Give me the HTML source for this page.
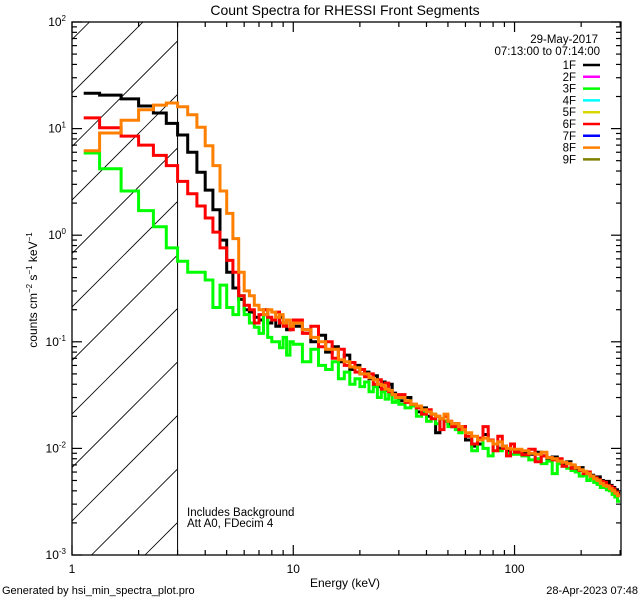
<!DOCTYPE html>
<html><head><meta charset="utf-8"><style>
html,body{margin:0;padding:0;background:#fff;overflow:hidden;width:640px;height:600px}
svg{display:block}
svg text{font-family:"Liberation Sans",sans-serif;fill:#000}
</style></head><body>
<svg id="chart" width="640" height="600" viewBox="0 0 640 600" xmlns="http://www.w3.org/2000/svg">
<defs><clipPath id="plotclip"><rect x="72" y="22" width="549" height="533"/></clipPath>
<clipPath id="hatchclip"><rect x="72" y="22" width="105" height="533"/></clipPath></defs>
<rect x="0" y="0" width="640" height="600" fill="#fff"/>
<text x="345" y="15" font-size="14" text-anchor="middle">Count Spectra for RHESSI Front Segments</text>
<g id="hatch" clip-path="url(#hatchclip)"></g>
<g id="axes"></g>
<g id="series" clip-path="url(#plotclip)"></g>
<g id="legend"></g>
<text x="187" y="516" font-size="11.5">Includes Background</text>
<text x="187" y="527" font-size="11.5">Att A0, FDecim 4</text>
<text x="345" y="587" font-size="12" text-anchor="middle">Energy (keV)</text>
<text transform="translate(37,290) rotate(-90)" font-size="12" text-anchor="middle">counts cm<tspan dy="-5" font-size="8">−2</tspan><tspan dy="5"> s</tspan><tspan dy="-5" font-size="8">−1</tspan><tspan dy="5"> keV</tspan><tspan dy="-5" font-size="8">−1</tspan></text>
<text x="2" y="594" font-size="11">Generated by hsi_min_spectra_plot.pro</text>
<text x="638" y="594" font-size="11" text-anchor="end">28-Apr-2023 07:48</text>
</svg>
<script>
// binning segments: [start keV, end keV, step keV]
const binSegments = [[1.0,10,1/3],[10,30,1],[30,60,2],[60,100,4],[100,300,8]];
const firstBinStart = 1.13;
const xTickMajor = [1,10,100];
const xTickLabels = ["1","10","100"];
const yTickExp = [-3,-2,-1,0,1,2];
const seriesNames = ["1F","2F","3F","4F","5F","6F","7F","8F","9F"];
const seriesColors = ["#000000","#ff00ff","#00ff00","#00ffff","#d8d800","#ff0000","#0000ff","#ff8000","#808000"];
const black = [21.5,20.6,19,16.3,14,11.2,8.7,6.0,3.9,2.65,1.73,0.9,0.45,0.32,0.25,0.2,0.19,0.17,0.16,0.18,0.15,0.16,0.14,0.17,0.15,0.13,0.14,
0.14,0.13,0.1,0.115,0.08,0.09,0.065,0.075,0.055,0.06,0.05,0.052,0.045,0.048,0.038,0.042,0.035,0.04,0.033,0.031,
0.028,0.03,0.025,0.022,0.024,0.02,0.021,0.014,0.019,0.018,0.017,0.016,0.017,0.015,0.016,
0.012,0.0105,0.011,0.0135,0.012,0.011,0.01,0.0105,0.0095,0.0098,
0.0095,0.009,0.0088,0.0092,0.0085,0.008,0.0083,0.0078,0.0072,0.0075,0.0068,0.0064,0.0066,0.006,0.0058,0.0056,0.0052,0.0054,0.005,0.0047,0.0049,0.0045,0.0043,0.0041,0.0038];
const green = [5.9,4.2,2.6,1.7,1.2,0.76,0.57,0.45,0.45,0.38,0.21,0.34,0.21,0.18,0.27,0.18,0.15,0.137,0.12,0.2,0.11,0.1,0.1,0.088,0.11,0.075,0.1,
0.095,0.065,0.085,0.06,0.055,0.065,0.045,0.052,0.04,0.045,0.038,0.042,0.034,0.038,0.03,0.034,0.029,0.032,0.027,0.028,
0.026,0.024,0.025,0.02,0.022,0.018,0.021,0.017,0.019,0.018,0.016,0.017,0.015,0.014,0.015,
0.013,0.0095,0.012,0.01,0.0085,0.011,0.0095,0.01,0.009,0.0088,
0.0088,0.0085,0.0078,0.008,0.0072,0.0076,0.0058,0.0072,0.0068,0.0065,0.0062,0.006,0.0055,0.0056,0.005,0.0052,0.0048,0.0046,0.0043,0.0044,0.0041,0.004,0.0037,0.0035,0.0032];
const red = [12.6,10.2,8.5,7.0,5.6,4.5,3.2,2.45,1.88,1.45,1.07,0.76,0.58,0.45,0.27,0.22,0.2,0.15,0.18,0.2,0.17,0.16,0.19,0.15,0.14,0.16,0.13,
0.16,0.12,0.14,0.09,0.1,0.07,0.085,0.06,0.064,0.052,0.055,0.047,0.05,0.04,0.044,0.036,0.041,0.034,0.032,0.03,
0.032,0.027,0.026,0.024,0.021,0.023,0.019,0.02,0.015,0.02,0.018,0.016,0.017,0.015,0.016,
0.013,0.011,0.0125,0.016,0.012,0.0095,0.013,0.01,0.0085,0.011,
0.0092,0.0087,0.0098,0.0075,0.0085,0.0082,0.0078,0.008,0.0068,0.0072,0.0065,0.0066,0.0062,0.0058,0.006,0.0055,0.0053,0.0051,0.0049,0.0048,0.0045,0.0044,0.0042,0.0039,0.0037];
const orange = [6.2,9.1,12,15,16.6,17.4,16,13.5,10.3,6.9,4.5,2.6,1.6,0.93,0.45,0.3,0.27,0.22,0.2,0.18,0.2,0.19,0.17,0.18,0.15,0.16,0.14,
0.15,0.13,0.11,0.1,0.085,0.085,0.068,0.065,0.058,0.057,0.05,0.05,0.046,0.044,0.04,0.039,0.036,0.035,0.032,0.03,
0.03,0.028,0.026,0.025,0.023,0.022,0.021,0.02,0.019,0.021,0.018,0.017,0.017,0.016,0.015,
0.014,0.013,0.012,0.0125,0.0118,0.011,0.0115,0.0105,0.01,0.0098,
0.0098,0.0095,0.009,0.0088,0.0092,0.0082,0.008,0.0076,0.0074,0.0072,0.007,0.0066,0.0063,0.0061,0.0058,0.0055,0.0052,0.005,0.0047,0.0045,0.0044,0.0042,0.004,0.0038,0.0036];

const NS="http://www.w3.org/2000/svg";
const X0=72,X1=621,Y0=22,Y1=555;
const xMinLog=0, xMaxLog=Math.log10(300)+0.004;
const yMinLog=-3, yMaxLog=2;
function xs(e){return X0+(Math.log10(e)-xMinLog)/(xMaxLog-xMinLog)*(X1-X0);}
function ys(v){return Y1-(Math.log10(v)-yMinLog)/(yMaxLog-yMinLog)*(Y1-Y0);}
function mk(tag,attrs,parent){const el=document.createElementNS(NS,tag);for(const k in attrs)el.setAttribute(k,attrs[k]);parent.appendChild(el);return el;}

const edges=[firstBinStart];
binSegments.forEach((s,i)=>{let n=Math.round((s[1]-s[0])/s[2]);for(let k=1;k<=n;k++){edges.push(s[0]+k*s[2]);}});

const hatch=document.getElementById('hatch');
for(let c=-700;c<700;c+=53.5){
  const l=mk('line',{x1:0,y1:472+c+72,x2:400,y2:472+c+72-400,stroke:'#000','stroke-width':0.8},hatch);
  
  
}

const axes=document.getElementById('axes');
const frame=mk('rect',{x:X0,y:Y0,width:X1-X0,height:Y1-Y0,fill:'none',stroke:'#000','stroke-width':1.3},axes);


const thr=mk('line',{x1:xs(3),y1:Y0,x2:xs(3),y2:Y1,stroke:'#000','stroke-width':1},axes);


for(let d=0;d<=2;d++){for(let m=1;m<=9;m++){const e=m*Math.pow(10,d);if(e>300)break;const x=xs(e);const len=m==1?10:5;
  const t1=mk('line',{x1:x,y1:Y1,x2:x,y2:Y1-len,stroke:'#000','stroke-width':1.2},axes);
  
  
  const t2=mk('line',{x1:x,y1:Y0,x2:x,y2:Y0+len,stroke:'#000','stroke-width':1.2},axes);
  
  
}}
xTickMajor.forEach((e,i)=>{const t=mk('text',{x:xs(e),y:573,'font-size':12,'text-anchor':'middle'},axes);t.textContent=xTickLabels[i];
  
  });
for(let d=-3;d<=2;d++){for(let m=1;m<=9;m++){if(d==2&&m>1)break;const y=ys(m*Math.pow(10,d));const len=m==1?10:5;
  const t1=mk('line',{x1:X0,y1:y,x2:X0+len,y2:y,stroke:'#000','stroke-width':1.2},axes);
  
  
  const t2=mk('line',{x1:X1,y1:y,x2:X1-len,y2:y,stroke:'#000','stroke-width':1.2},axes);
  
  
}}
yTickExp.forEach(p=>{const t=mk('text',{x:66,y:ys(Math.pow(10,p))+4,'font-size':12,'text-anchor':'end'},axes);
  t.innerHTML='10<tspan dy="-5" font-size="8">'+p+'</tspan>';
  
  });

const g=document.getElementById('series');
const drawn=[[black,0,'series-1f'],[green,2,'series-3f'],[red,5,'series-6f'],[orange,7,'series-8f']];
drawn.forEach(([vals,ci,name])=>{
  let d='';
  for(let i=0;i<vals.length&&i+1<edges.length;i++){const y=ys(vals[i]);const xa=xs(edges[i]),xb=xs(edges[i+1]);
    d+=(i==0?'M':'L')+xa.toFixed(1)+','+y.toFixed(1)+'L'+xb.toFixed(1)+','+y.toFixed(1);}
  const p=mk('path',{d:d,fill:'none',stroke:seriesColors[ci],'stroke-width':3,'stroke-linejoin':'miter'},g);
  
  
});

const lg=document.getElementById('legend');
const d1=mk('text',{x:598,y:43,'font-size':11.5,'text-anchor':'end'},lg);d1.textContent='29-May-2017';


const d2=mk('text',{x:600,y:55,'font-size':11.5,'text-anchor':'end'},lg);d2.textContent='07:13:00 to 07:14:00';


seriesNames.forEach((n,i)=>{const y=65+i*11.8;
  const t=mk('text',{x:576,y:y+4,'font-size':11.5,'text-anchor':'end'},lg);t.textContent=n;
  
  
  const l=mk('line',{x1:583,y1:y,x2:600,y2:y,stroke:seriesColors[i],'stroke-width':2.5},lg);
  
  
});
</script>
</body></html>
